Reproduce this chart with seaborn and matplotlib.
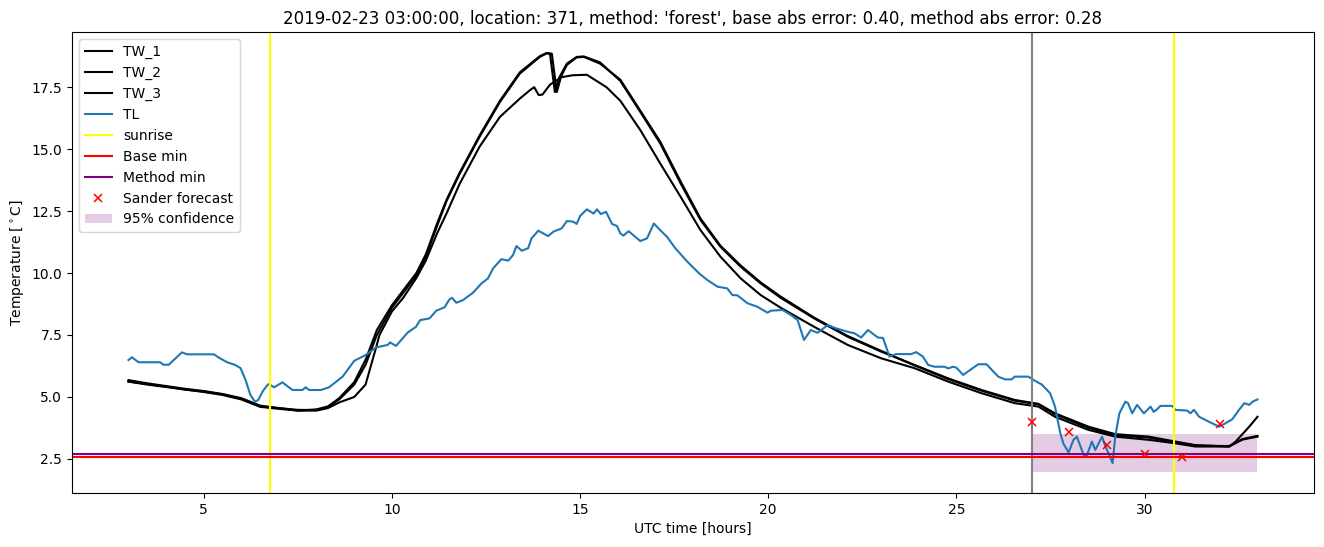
import numpy as np
import pandas as pd
import matplotlib
matplotlib.use("Agg")
import matplotlib.pyplot as plt
import seaborn as sns

# ---- data (hours UTC, temperature degC) ----
tw1_h = [3.0, 3.5, 4.0, 4.5, 5.0, 5.5, 6.0, 6.5, 7.0, 7.5, 8.0, 8.3, 8.6, 9.0, 9.3, 9.6, 10.0, 10.3,
         10.65, 10.9, 11.2, 11.45, 11.8, 12.33, 12.87, 13.4, 13.93, 14.11, 14.2, 14.33, 14.45, 14.65,
         14.91, 15.1, 15.53, 16.07, 16.6, 17.13, 17.67, 18.2, 18.73, 19.27, 19.8, 20.33, 21.22, 22.11,
         23.0, 23.89, 24.78, 25.67, 26.55, 27.18, 27.62, 28.51, 29.22, 30.11, 30.82, 31.35, 32.25,
         32.42, 32.78, 33.0]
tw1_v = [5.68, 5.55, 5.44, 5.33, 5.24, 5.12, 4.95, 4.65, 4.55, 4.48, 4.47, 4.6, 4.9, 5.5, 6.3, 7.5, 8.6, 9.2,
         9.9, 10.66, 11.9, 12.9, 14.0, 15.5, 16.9, 18.05, 18.72, 18.86, 18.85, 17.3, 17.9, 18.45,
         18.72, 18.74, 18.5, 17.75, 16.5, 15.23, 13.62, 12.14, 11.06, 10.25, 9.58, 9.0, 8.17, 7.43,
         6.83, 6.29, 5.75, 5.28, 4.88, 4.72, 4.34, 3.8, 3.5, 3.4, 3.2, 3.06, 3.0,
         3.2, 3.8, 4.2]

tw2_h = [3.0, 3.5, 4.0, 4.5, 5.0, 5.5, 6.0, 6.5, 7.0, 7.5, 8.0, 8.3, 8.6, 9.0, 9.3, 9.6, 10.0, 10.3,
         10.65, 10.9, 11.2, 11.45, 11.8, 12.33, 12.87, 13.4, 13.93, 14.11, 14.25, 14.38, 14.5, 14.65,
         14.91, 15.1, 15.53, 16.07, 16.6, 17.13, 17.67, 18.2, 18.73, 19.27, 19.8, 20.33, 21.22, 22.11,
         23.0, 23.89, 24.78, 25.67, 26.55, 27.18, 27.62, 28.51, 29.22, 30.11, 30.82, 31.35, 32.25,
         32.6, 33.0]
tw2_v = [5.62, 5.52, 5.42, 5.3, 5.22, 5.1, 4.92, 4.62, 4.55, 4.45, 4.5, 4.62, 4.95, 5.6, 6.5, 7.7, 8.7, 9.3,
         10.0, 10.75, 12.0, 12.95, 14.05, 15.55, 16.95, 18.1, 18.75, 18.88, 18.85, 17.3, 17.95, 18.4,
         18.7, 18.72, 18.45, 17.8, 16.55, 15.3, 13.7, 12.2, 11.1, 10.3, 9.62, 9.05, 8.2, 7.46,
         6.86, 6.27, 5.72, 5.25, 4.85, 4.7, 4.3, 3.75, 3.45, 3.36, 3.16, 3.03, 3.02,
         3.28, 3.4]

tw3_h = [3.0, 3.5, 4.0, 4.5, 5.0, 5.5, 6.0, 6.5, 7.0, 7.5, 8.0, 8.3, 8.6, 9.0, 9.3, 9.58, 9.67, 10.0,
         10.3, 10.65, 10.9, 11.2, 11.45, 11.8, 12.33, 12.87, 13.4, 13.67, 13.78, 13.9, 14.0, 14.2, 14.5,
         14.8, 15.18, 15.7, 16.07, 16.6, 17.13, 17.67, 18.2, 18.73, 19.27, 19.8, 20.33, 21.22, 22.11,
         23.0, 23.89, 24.78, 25.67, 26.55, 27.18, 27.62, 28.51, 29.22, 30.11, 30.82, 31.35, 32.25,
         32.6, 33.0]
tw3_v = [5.62, 5.5, 5.4, 5.3, 5.2, 5.08, 4.9, 4.6, 4.52, 4.45, 4.45, 4.55, 4.78, 5.0, 5.5, 7.0, 7.5, 8.45,
         9.0, 9.8, 10.5, 11.6, 12.4, 13.6, 15.1, 16.3, 17.04, 17.38, 17.5, 17.18, 17.2, 17.6, 17.9,
         17.98, 18.0, 17.5, 16.95, 15.77, 14.42, 13.08, 11.73, 10.66, 9.78, 9.11, 8.6, 7.83, 7.1,
         6.56, 6.16, 5.62, 5.15, 4.75, 4.61, 4.2, 3.67, 3.4, 3.27, 3.13, 3.0, 3.0,
         3.3, 3.43]

tl_h = [3.0, 3.09, 3.27, 3.84, 3.93, 4.07, 4.42, 4.56, 5.27, 5.4, 5.62, 5.84, 5.98, 6.11, 6.24, 6.36,
        6.45, 6.56, 6.69, 6.73, 6.87, 7.09, 7.36, 7.62, 7.71, 7.8, 8.11, 8.33, 8.69, 9.0, 9.31, 9.58,
        9.89, 9.95, 10.11, 10.42, 10.64, 10.75, 11.0, 11.18, 11.4, 11.53, 11.6, 11.71, 11.89, 12.15,
        12.38, 12.55, 12.69, 12.91, 13.09, 13.22, 13.31, 13.45, 13.62, 13.71, 13.89, 14.15, 14.29,
        14.51, 14.65, 14.82, 14.91, 15.0, 15.18, 15.36, 15.45, 15.55, 15.69, 15.85, 15.98, 16.07,
        16.15, 16.29, 16.6, 16.78, 16.96, 17.13, 17.31, 17.53, 17.85, 18.16, 18.38, 18.65, 18.91,
        19.05, 19.18, 19.45, 19.71, 19.98, 20.07, 20.38, 20.6, 20.78, 20.95, 21.13, 21.31, 21.58,
        21.8, 22.11, 22.29, 22.47, 22.65, 22.91, 23.05, 23.22, 23.4, 23.8, 23.93, 24.11, 24.25,
        24.42, 24.69, 24.78, 24.91, 25.0, 25.18, 25.58, 25.8, 26.11, 26.29, 26.47, 26.55, 26.91,
        27.09, 27.27, 27.49, 27.62, 27.76, 27.84, 27.98, 28.11, 28.2, 28.38, 28.47, 28.6, 28.69,
        28.87, 28.96, 29.06, 29.15, 29.22, 29.33, 29.49, 29.56, 29.67, 29.8, 29.98, 30.16, 30.24,
        30.33, 30.42, 30.73, 30.82, 31.13, 31.22, 31.31, 31.45, 31.71, 31.98, 32.15, 32.33, 32.51,
        32.65, 32.78, 32.87, 33.0]
tl_v = [6.49, 6.6, 6.4, 6.4, 6.3, 6.3, 6.8, 6.72, 6.72, 6.59, 6.4, 6.29, 6.16, 5.69, 5.08, 4.81,
        4.88, 5.21, 5.48, 5.52, 5.39, 5.59, 5.28, 5.28, 5.39, 5.28, 5.28, 5.39, 5.82, 6.46, 6.7, 7.0,
        7.1, 7.2, 7.06, 7.6, 7.83, 8.1, 8.17, 8.48, 8.62, 8.94, 9.0, 8.8, 8.91, 9.2,
        9.58, 9.78, 10.19, 10.56, 10.5, 10.73, 11.09, 10.9, 11.0, 11.4, 11.71, 11.49, 11.67,
        11.8, 12.1, 12.07, 11.98, 12.3, 12.57, 12.4, 12.57, 12.38, 12.47, 11.98, 11.9, 11.6,
        11.51, 11.69, 11.29, 11.4, 12.0, 11.73, 11.46, 11.0, 10.46, 9.99, 9.72, 9.45, 9.38,
        9.11, 9.1, 8.78, 8.64, 8.4, 8.48, 8.51, 8.31, 8.1, 7.3, 7.7, 7.59, 7.9,
        7.77, 7.63, 7.57, 7.4, 7.7, 7.4, 7.38, 6.63, 6.73, 6.73, 6.81, 6.63, 6.29,
        6.22, 6.22, 6.15, 6.22, 6.18, 5.89, 6.32, 6.32, 5.82, 5.71, 5.71, 5.82, 5.82,
        5.65, 5.5, 5.15, 4.61, 3.54, 3.13, 2.76, 3.27, 3.4, 2.66, 2.66, 3.2, 2.86,
        3.4, 3.0, 2.66, 2.33, 3.4, 4.34, 4.81, 4.75, 4.34, 4.68, 4.34, 4.61, 4.4,
        4.5, 4.64, 4.64, 4.48, 4.45, 4.34, 4.48, 4.2, 4.0, 3.8, 3.94, 4.1, 4.48,
        4.75, 4.68, 4.81, 4.9]

sunrise_h = [6.76, 30.79]
forecast_time = 27.0
base_min = 2.58
method_min = 2.70

sander_h = [27, 28, 29, 30, 31, 32]
sander_v = [3.99, 3.59, 3.06, 2.70, 2.58, 3.91]

conf_h = [27, 33]
conf_low = [1.97, 1.97]
conf_high = [3.5, 3.5]

title = ("2019-02-23 03:00:00, location: 371, method: 'forest', "
         "base abs error: 0.40, method abs error: 0.28")

# ---- plot ----
fig = plt.figure(figsize=(13.24, 5.47), dpi=100)
ax = fig.add_axes([0.0544, 0.0987, 0.938, 0.8428])

sns.lineplot(x=tw1_h, y=tw1_v, color="black", label="TW_1", ax=ax, sort=False, estimator=None)
sns.lineplot(x=tw2_h, y=tw2_v, color="black", label="TW_2", ax=ax, sort=False, estimator=None)
sns.lineplot(x=tw3_h, y=tw3_v, color="black", label="TW_3", ax=ax, sort=False, estimator=None)
sns.lineplot(x=tl_h, y=tl_v, color="#1f77b4", label="TL", ax=ax, sort=False, estimator=None)

ax.axvline(sunrise_h[0], color="yellow", label="sunrise")
ax.axvline(sunrise_h[1], color="yellow")
ax.axvline(forecast_time, color="gray")
ax.axhline(base_min, color="red", label="Base min")
ax.axhline(method_min, color="purple", label="Method min")

sns.lineplot(x=sander_h, y=sander_v, marker="x", linestyle="", color="red",
             markeredgecolor="red", markersize=6, markeredgewidth=1.1,
             label="Sander forecast", ax=ax, sort=False, estimator=None, zorder=5)
ax.fill_between(conf_h, conf_low, conf_high, color="purple", alpha=0.2, linewidth=0,
                label="95% confidence")

ax.set_title(title)
ax.set_xlabel("UTC time [hours]")
ax.set_ylabel(r"Temperature [$^\circ$C]")
ax.legend(loc="upper left")

fig.savefig("out.png", dpi=100)
